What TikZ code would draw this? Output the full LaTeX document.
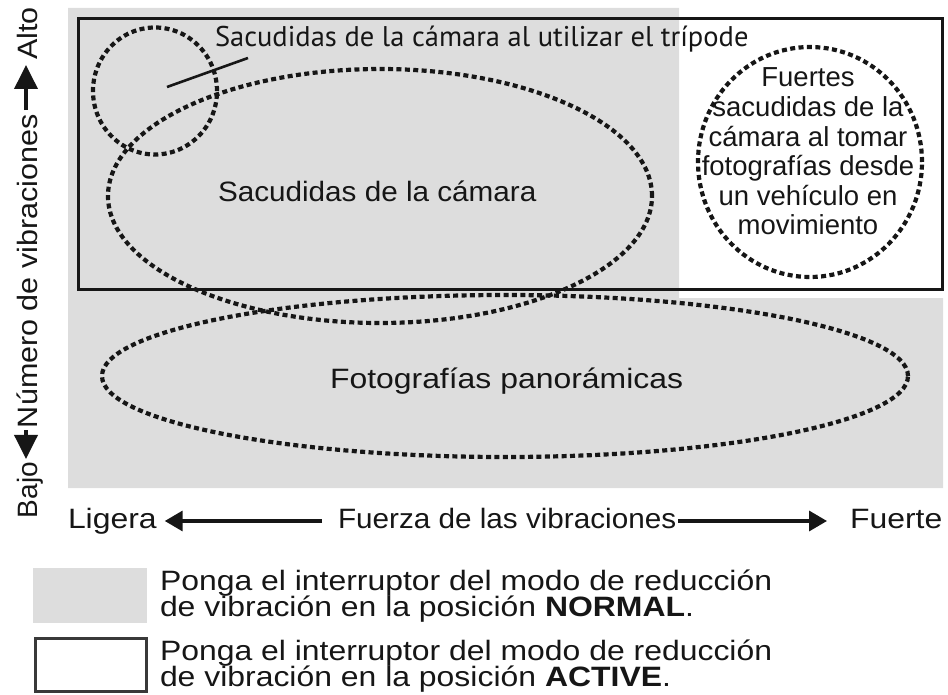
\documentclass[tikz,border=0pt]{standalone}
\usepackage{fontspec}
\setmainfont{Liberation Sans}
\newfontfamily\tripfont{PT Sans}
\newfontfamily\fA[FakeStretch=1.14]{Liberation Sans}
\newfontfamily\fB[FakeStretch=1.06]{Liberation Sans}
\newfontfamily\fC[FakeStretch=1.09]{Liberation Sans}
\usetikzlibrary{arrows.meta,shapes.geometric}
\definecolor{zonegray}{RGB}{221,221,221}
\definecolor{inkc}{RGB}{22,22,22}
\begin{document}
\begin{tikzpicture}[x=1pt,y=-1pt,
  every node/.style={inner sep=0pt,outer sep=0pt,text=inkc},
  dotring/.style={ellipse,draw=inkc,line width=4.2pt,dash pattern=on 5pt off 3.4pt},
  txt/.style={font=\fontsize{28}{28}\selectfont,anchor=base west},
  axisarrow/.style={draw=inkc,line width=3.5pt,-{Triangle[length=18pt,width=20pt]}},
  vaxisarrow/.style={draw=inkc,line width=3.8pt,-{Triangle[length=24pt,width=23pt]}}]
\useasboundingbox (0,0) rectangle (948,695);
% shaded zone (NORMAL)
\fill[zonegray] (68,8) -- (679,8) -- (679,298) -- (943,298) -- (943,488) -- (68,488) -- cycle;
% ACTIVE zone frame
\draw[draw=inkc,line width=3pt] (78,19) rectangle (942,289);
% dotted zones
\node[dotring,minimum width=544pt,minimum height=254pt] (shake) at (380,196) {};
\node[dotring,minimum width=806pt,minimum height=162pt] (pano) at (505,376) {};
\node[dotring,minimum width=124pt,minimum height=127pt] (tripod) at (155,91) {};
\node[dotring,minimum width=224pt,minimum height=230pt] (vehicle) at (810,162) {};
% labels
\node[txt,font=\tripfont\fontsize{28.5}{28.5}\selectfont] (triplabel) at (215,47) {Sacudidas de la cámara al utilizar el trípode};
\coordinate (tripin) at (167,87);
\coordinate (tripout) at (248,58);
\draw[draw=inkc,line width=2.6pt] (tripin) -- (tripout);
\node[txt,font=\fB\fontsize{28}{28}\selectfont] (shakelabel) at (218,202) {Sacudidas de la cámara};
\node[txt,font=\fA\fontsize{28}{28}\selectfont] (panolabel) at (330,388) {Fotografías panorámicas};
\node[font=\fontsize{27.5}{29.6}\selectfont,align=center,anchor=north] (vehiclelabel) at (808,68)
  {Fuertes\\sacudidas de la\\cámara al tomar\\fotografías desde\\un vehículo en\\movimiento};
% horizontal axis
\node[txt,font=\fA\fontsize{28}{28}\selectfont] (ligera) at (68,528) {Ligera};
\node[txt,font=\fB\fontsize{28}{28}\selectfont] (fuerza) at (338,528) {Fuerza de las vibraciones};
\node[txt,font=\fA\fontsize{28}{28}\selectfont] (fuerte) at (850,528) {Fuerte};
\draw[axisarrow,shorten <=16pt,shorten >=8pt] ([yshift=7pt]fuerza.base west) -- ([yshift=7pt]ligera.base east);
\draw[axisarrow,shorten <=2pt,shorten >=23pt] ([yshift=7pt]fuerza.base east) -- ([yshift=7pt]fuerte.base west);
% vertical axis
\node[txt,font=\fC\fontsize{28}{28}\selectfont,rotate=90] (alto) at (37,60) {Alto};
\node[txt,font=\fC\fontsize{28}{28}\selectfont,rotate=90] (numero) at (37,428) {Número de vibraciones};
\node[txt,font=\fontsize{28}{28}\selectfont,rotate=90] (bajo) at (37,518) {Bajo};
\draw[vaxisarrow,shorten <=4pt,shorten >=5pt] ([xshift=-11pt]numero.base east) -- ([xshift=-11pt]alto.base west);
\draw[vaxisarrow,shorten <=2pt,shorten >=3pt] ([xshift=-11pt]numero.base west) -- ([xshift=-11pt]bajo.base east);
% legend
\node[fill=zonegray,minimum width=114pt,minimum height=55pt] (legnormal) at (90,595.5) {};
\node[draw=inkc!85,line width=2.2pt,fill=white,minimum width=111pt,minimum height=53pt] (legactive) at (91,665) {};
\node[txt,font=\fA\fontsize{28}{28}\selectfont] (ln1) at (160,590) {Ponga el interruptor del modo de reducción};
\node[txt,font=\fA\fontsize{28}{28}\selectfont] (ln2) at (160,616) {de vibración en la posición \textbf{NORMAL}.};
\node[txt,font=\fA\fontsize{28}{28}\selectfont] (la1) at (160,660) {Ponga el interruptor del modo de reducción};
\node[txt,font=\fA\fontsize{28}{28}\selectfont] (la2) at (160,686) {de vibración en la posición \textbf{ACTIVE}.};
\end{tikzpicture}
\end{document}
